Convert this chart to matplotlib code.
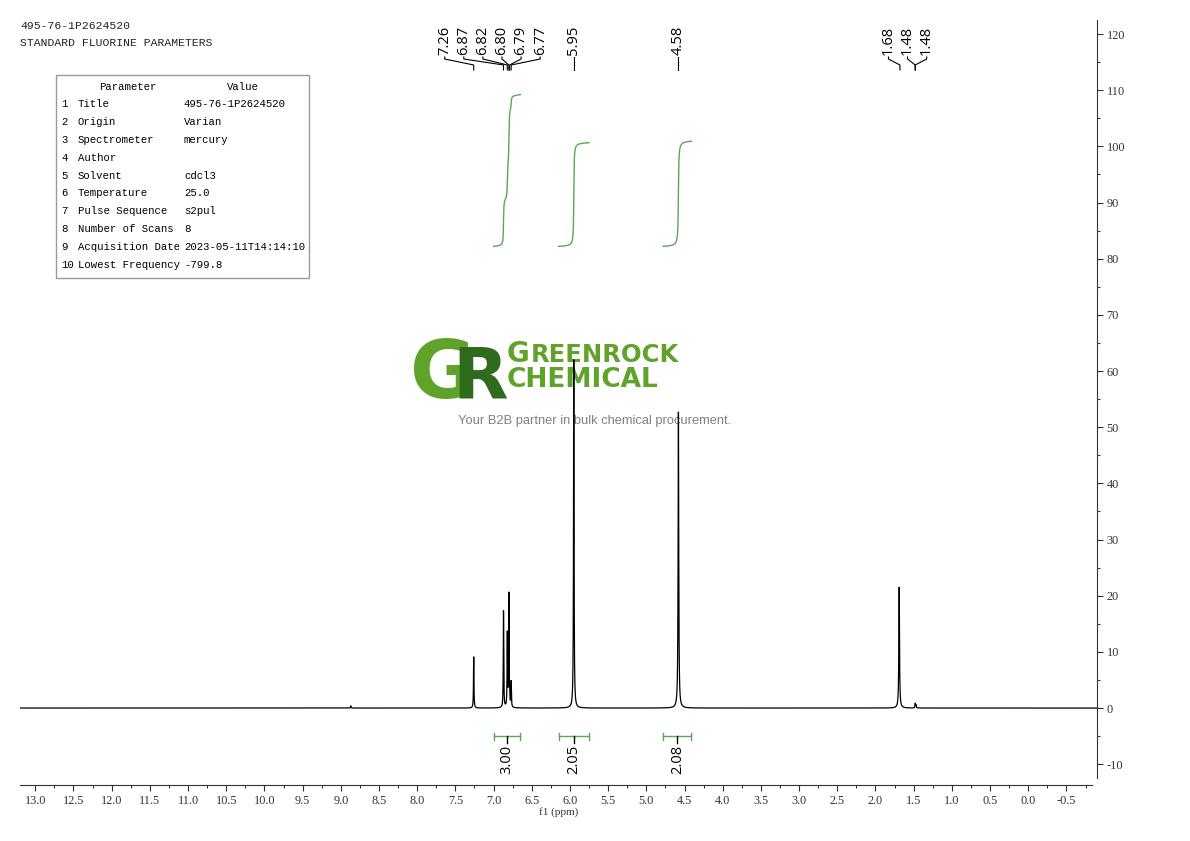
import numpy as np
import matplotlib
matplotlib.use('Agg')
import matplotlib.pyplot as plt
from matplotlib.patches import Rectangle
from matplotlib.transforms import blended_transform_factory
from matplotlib.ticker import MultipleLocator, FormatStrFormatter

plt.rcParams['axes.unicode_minus'] = False

title_id = '495-76-1P2624520'
subtitle = 'STANDARD FLUORINE PARAMETERS'

param_names = ['Title', 'Origin', 'Spectrometer', 'Author', 'Solvent', 'Temperature',
               'Pulse Sequence', 'Number of Scans', 'Acquisition Date', 'Lowest Frequency']
param_values = ['495-76-1P2624520', 'Varian', 'mercury', '', 'cdcl3', '25.0', 's2pul', '8',
                '2023-05-11T14:14:10', '-799.8']

# lines of the spectrum: shift (ppm), height, half width (ppm)
peak_ppm = [8.87, 7.26, 6.87, 6.82, 6.80, 6.79, 6.77, 5.95, 4.58, 1.69, 1.48, 1.47]
peak_height = [0.4, 9.1, 17.2, 13.0, 20.0, 1.5, 4.5, 62.0, 52.7, 21.5, 0.8, 0.5]
peak_hwhm = [0.004, 0.0035, 0.0035, 0.0035, 0.0035, 0.0035, 0.0035, 0.004, 0.0048, 0.005, 0.004, 0.004]

# picked peak labels
label_shifts = [7.26, 6.87, 6.82, 6.80, 6.79, 6.77, 5.95, 4.58, 1.68, 1.48, 1.48]

# integrals
integ_from = [7.00, 6.15, 4.78]
integ_to = [6.65, 5.75, 4.41]
integ_value = [3.00, 2.05, 2.08]

W, H = 1190, 841
fig = plt.figure(figsize=(W / 100, H / 100), dpi=100)


def fx(px):
    return px / W


def fy(py):
    return 1 - py / H


ax = fig.add_axes([fx(20), fy(785), fx(1097) - fx(20), fy(20) - fy(785)])
ax.set_zorder(2)
ax.patch.set_alpha(0)
ax.set_xlim(13.2, -0.9)
ax.set_ylim(-13.7, 122.5)

x = np.linspace(13.2, -0.9, 120000)
y = np.zeros_like(x)
for c, h, w in zip(peak_ppm, peak_height, peak_hwhm):
    y += h / (1 + ((x - c) / w) ** 2)
ax.plot(x, y, color='black', lw=0.9, zorder=3)

# integral curves and brackets
green = '#5aa65a'
base = 82.2
per_h = 9.0
for a, b, v in zip(integ_from, integ_to, integ_value):
    m = (x <= a) & (x >= b)
    cs = np.cumsum(y[m])
    cs = cs / cs[-1] * v * per_h + base
    ax.plot(x[m], cs, color=green, lw=1.0, zorder=2)
    ax.plot([a, b], [-5, -5], color=green, lw=1.0)
    ax.plot([a, a], [-5.6, -4.4], color=green, lw=1.0)
    ax.plot([b, b], [-5.6, -4.4], color=green, lw=1.0)
    mid = (a + b) / 2
    ax.plot([mid, mid], [-5, -6.2], color='black', lw=1.0)
    ax.text(mid, -6.6, f'{v:.2f}', rotation=90, ha='center', va='top',
            fontsize=10.5, family='Open Sans', color='black')


# peak labels spread on top
def spread_labels(shifts, gap):
    clusters = [[s] for s in shifts]

    def positions(c):
        mid = (c[0] + c[-1]) / 2
        n = len(c)
        return [mid + (n - 1) / 2 * gap - i * gap for i in range(n)]

    merged = True
    while merged:
        merged = False
        for i in range(len(clusters) - 1):
            if positions(clusters[i])[-1] - positions(clusters[i + 1])[0] < gap:
                clusters[i] = clusters[i] + clusters.pop(i + 1)
                merged = True
                break
    out = []
    for c in clusters:
        out += positions(c)
    return out


lab_pos = spread_labels(label_shifts, 0.25)
tr = blended_transform_factory(ax.transData, fig.transFigure)
for s, p in zip(label_shifts, lab_pos):
    ax.text(p, fy(55), f'{s:.2f}', rotation=90, ha='center', va='bottom',
            fontsize=10.5, family='Open Sans', transform=tr)
    ax.plot([p, p, s, s], [fy(57), fy(59), fy(65), fy(70)], color='black',
            lw=0.8, transform=tr, clip_on=False)

# axes styling
for side in ['top', 'left']:
    ax.spines[side].set_visible(False)
ax.spines['bottom'].set_bounds(-0.84, 13.2)
ax.spines['right'].set_bounds(-12.5, 122.5)
ax.spines['bottom'].set_color('#333333')
ax.spines['right'].set_color('#333333')
ax.yaxis.tick_right()
ax.set_xticks(np.arange(-0.5, 13.01, 0.5))
ax.xaxis.set_minor_locator(MultipleLocator(0.25))
ax.xaxis.set_major_formatter(FormatStrFormatter('%.1f'))
ax.set_yticks(np.arange(-10, 121, 10))
ax.yaxis.set_minor_locator(MultipleLocator(5))
ax.tick_params(which='major', length=4, width=0.8, color='#333333',
               labelsize=8.8, labelcolor='#333333', pad=3)
ax.tick_params(which='minor', length=2, width=0.8, color='#333333')
for lab in ax.get_xticklabels() + ax.get_yticklabels():
    lab.set_family('Liberation Serif')
ax.set_xlabel('f1 (ppm)', fontsize=8, family='Liberation Serif', color='#333333', labelpad=0)

# header
mono = 'Liberation Mono'
fs = 7.7
fig.text(fx(20), fy(26), title_id, fontsize=8.2, family=mono, va='center', color='#222222')
fig.text(fx(20), fy(43), subtitle, fontsize=8.2, family=mono, va='center', color='#222222')

# parameter table
fig.patches.append(Rectangle((fx(56), fy(278)), fx(309) - fx(56), fy(75) - fy(278),
                             transform=fig.transFigure, fill=False, ec='#9a9a9a', lw=1.0))
fig.text(fx(128), fy(87), 'Parameter', fontsize=fs, family=mono, ha='center', va='center')
fig.text(fx(243), fy(87), 'Value', fontsize=fs, family=mono, ha='center', va='center')
for i, (nm, vl) in enumerate(zip(param_names, param_values)):
    yy = fy(104 + i * 17.9)
    fig.text(fx(61), yy, str(i + 1), fontsize=fs, family=mono, va='center')
    fig.text(fx(78), yy, nm, fontsize=fs, family=mono, va='center')
    fig.text(fx(184), yy, vl, fontsize=fs, family=mono, va='center')

# watermark logo
light = '#5fa32a'
dark = '#2f6a1d'
fig.text(fx(410), fy(398), 'G', fontsize=58, family='DejaVu Sans', weight='bold',
         color=light, va='baseline', zorder=0)
fig.text(fx(452), fy(398), 'R', fontsize=52, family='DejaVu Sans', weight='bold',
         color=dark, va='baseline', zorder=0)
fig.text(fx(507), fy(362), 'G', fontsize=20, family='DejaVu Sans', weight='bold',
         color=light, va='baseline', zorder=0)
fig.text(fx(531), fy(362), 'REENROCK', fontsize=17.5, family='DejaVu Sans', weight='bold',
         color=light, va='baseline', zorder=0)
fig.text(fx(507), fy(387), 'CHEMICAL', fontsize=19, family='DejaVu Sans', weight='bold',
         color=light, va='baseline', zorder=0)
fig.text(fx(595), fy(421), 'Your B2B partner in bulk chemical procurement.', fontsize=9.3,
         family='Liberation Sans', color='#808080', ha='center', va='center', zorder=0)

fig.savefig('out.png', dpi=100)
